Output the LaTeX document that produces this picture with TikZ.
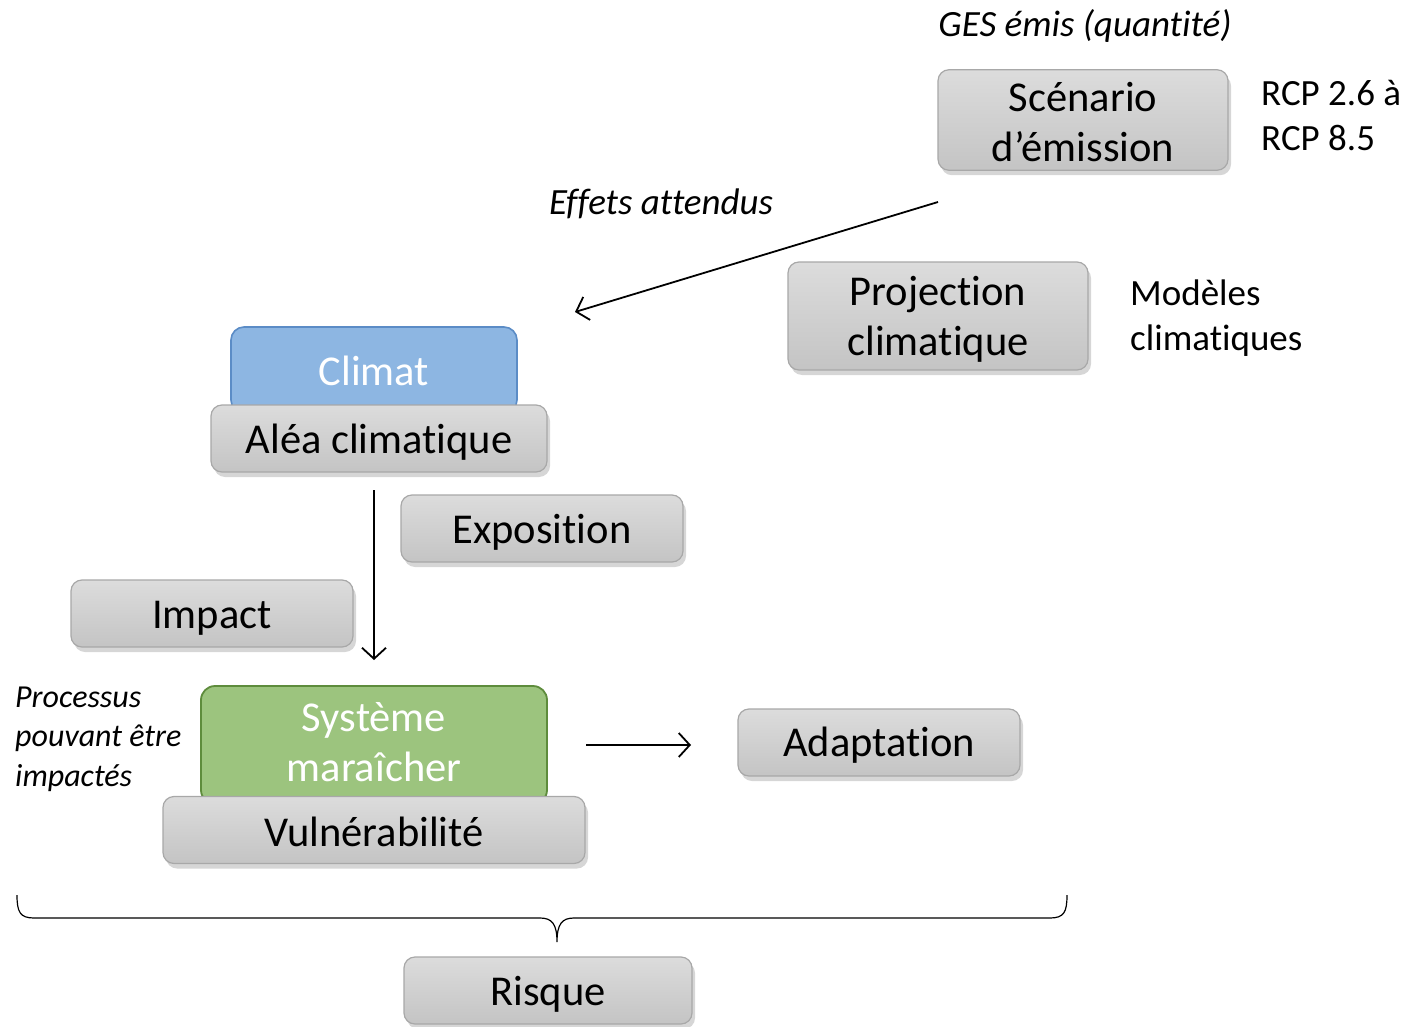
\documentclass[tikz,border=0pt]{standalone}
\usepackage{fontspec}
\setmainfont{Carlito}[Ligatures=CommonOff]
\usetikzlibrary{arrows.meta,shadows}
\definecolor{boxtop}{HTML}{DCDCDC}
\definecolor{boxbot}{HTML}{C4C4C4}
\definecolor{boxline}{HTML}{A8A8A8}
\definecolor{bluefill}{HTML}{8DB6E2}
\definecolor{blueline}{HTML}{5B8CC6}
\definecolor{greenfill}{HTML}{9CC47E}
\definecolor{greenline}{HTML}{5E8C3C}
\newcommand\lowerby[2]{\raisebox{-#1}[\height][\depth]{#2}}
\tikzset{
  graybox/.style={draw=boxline, line width=1.2pt, rounded corners=11pt, top color=boxtop, bottom color=boxbot,
    align=center, inner sep=0pt, font=\fontsize{42.5}{50}\selectfont,
    drop shadow={shadow xshift=3pt, shadow yshift=-5pt, fill=black!35, opacity=0.45}},
  bluebox/.style={draw=blueline, line width=1.6pt, rounded corners=13pt, fill=bluefill, text=white,
    align=center, inner sep=0pt, font=\fontsize{42.5}{50}\selectfont},
  greenbox/.style={draw=greenline, line width=1.8pt, rounded corners=14pt, fill=greenfill, text=white,
    align=center, inner sep=0pt, font=\fontsize{42.5}{50}\selectfont},
  note/.style={align=left, inner sep=0pt, anchor=west, font=\fontsize{37}{45}\selectfont},
  inote/.style={note, font=\fontsize{37}{45}\selectfont\itshape},
  pnote/.style={align=left, inner sep=0pt, anchor=west, font=\fontsize{32}{39.5}\selectfont\itshape},
  conn/.style={line width=1.8pt, -{Straight Barb[length=11pt,width=24pt,line width=1.8pt]}},
}
\begin{document}
\begin{tikzpicture}[x=1pt,y=-1pt]
\useasboundingbox[fill=white] (0,0) rectangle (1408,1027);

% boxes
\node[graybox, minimum width=290pt, minimum height=100pt] (scen) at (1083,120) {\lowerby{6.5pt}{\begin{tabular}{@{}c@{}}Scénario\\[0.5pt]d’émission\end{tabular}}};
\node[graybox, minimum width=300pt, minimum height=108pt] (proj) at (938,316) {\lowerby{4.5pt}{\begin{tabular}{@{}c@{}}Projection\\[0.5pt]climatique\end{tabular}}};
\node[bluebox, minimum width=286pt, minimum height=86pt] (clim) at (374,370) {\lowerby{1pt}{Climat}};
\node[graybox, minimum width=336pt, minimum height=67pt] (alea) at (379,438.5) {\lowerby{4pt}{Aléa climatique}};
\node[graybox, minimum width=282pt, minimum height=67pt] (expo) at (542,528.5) {\lowerby{4pt}{Exposition}};
\node[graybox, minimum width=282pt, minimum height=67pt] (imp) at (212,613.5) {\lowerby{5pt}{Impact}};
\node[greenbox, minimum width=346pt, minimum height=118pt] (sys) at (374,745) {\lowerby{1.5pt}{\begin{tabular}{@{}c@{}}Système\\[0.5pt]maraîcher\end{tabular}}};
\node[graybox, minimum width=422pt, minimum height=67pt] (vuln) at (374,830) {\lowerby{2pt}{Vulnérabilité}};
\node[graybox, minimum width=282pt, minimum height=67pt] (adap) at (879,742.5) {\lowerby{3pt}{Adaptation}};
\node[graybox, minimum width=288pt, minimum height=67pt] (risk) at (548,990.5) {\lowerby{4pt}{Risque}};

% texts
\node[inote, anchor=center] (ges) at (1085,26) {GES émis (quantité)};
\node[note] (rcp) at (1261,116) {RCP 2.6 à\\RCP 8.5};
\node[note] (mod) at (1130,318) {Modèles\\climatiques};
\node[inote] (eff) at (549,204) {Effets attendus};
\node[pnote] (proc) at (15,739) {Processus\\pouvant être\\impactés};

% connectors
\coordinate (e1) at (938,202);
\coordinate (e2) at (575,312);
\draw[conn] (e1) -- (e2);
\coordinate (v1) at (374,490);
\coordinate (v2) at (374,660);
\draw[conn] (v1) -- (v2);
\coordinate (h1) at (586,745);
\coordinate (h2) at (691,745);
\draw[conn] (h1) -- (h2);

% brace
\draw[line width=1.2pt] (17,895) .. controls (17,912) and (20,918) .. (34,918) -- (540,918)
  .. controls (552,918) and (557,924) .. (557,942)
  .. controls (557,924) and (562,918) .. (574,918) -- (1050,918)
  .. controls (1064,918) and (1067,912) .. (1067,895);
\end{tikzpicture}
\end{document}
